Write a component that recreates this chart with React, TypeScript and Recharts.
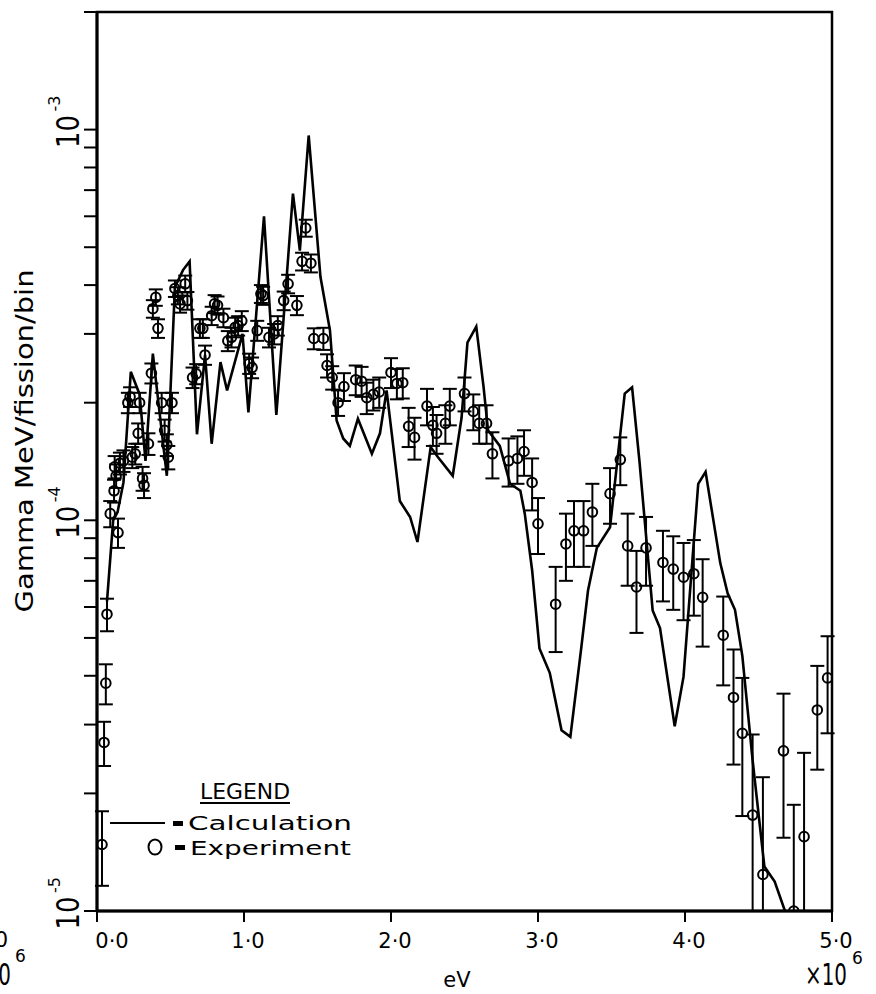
import React from 'react';
import { ComposedChart, Line, Scatter, ErrorBar, XAxis, YAxis, ReferenceArea } from 'recharts';

// calculated spectrum, energy in MeV
const calcE = [0.068, 0.11, 0.14, 0.18, 0.23, 0.29, 0.33, 0.38, 0.475, 0.53, 0.585, 0.63, 0.68, 0.735, 0.78, 0.84, 0.885, 0.99, 1.03, 1.136, 1.22, 1.333, 1.38, 1.44, 1.52, 1.585, 1.63, 1.675, 1.72, 1.775, 1.87, 1.925, 1.97, 2.06, 2.13, 2.18, 2.27, 2.32, 2.42, 2.48, 2.52, 2.58, 2.63, 2.66, 2.74, 2.81, 2.88, 2.91, 2.96, 3.01, 3.08, 3.16, 3.22, 3.29, 3.34, 3.40, 3.49, 3.59, 3.64, 3.69, 3.78, 3.83, 3.93, 3.99, 4.09, 4.14, 4.24, 4.29, 4.34, 4.39, 4.46, 4.54, 4.61, 4.68];
const calcY = [6.2e-5, 1.0e-4, 1.05e-4, 1.25e-4, 2.4e-4, 2.1e-4, 1.42e-4, 2.67e-4, 1.3e-4, 3.95e-4, 4.37e-4, 4.6e-4, 1.66e-4, 2.65e-4, 1.57e-4, 2.54e-4, 2.15e-4, 3.0e-4, 1.89e-4, 6.0e-4, 1.86e-4, 6.86e-4, 4.9e-4, 9.66e-4, 4.2e-4, 3.06e-4, 1.8e-4, 1.62e-4, 1.55e-4, 1.82e-4, 1.48e-4, 1.67e-4, 2.15e-4, 1.12e-4, 1.02e-4, 8.8e-5, 1.54e-4, 1.45e-4, 1.3e-4, 1.83e-4, 2.85e-4, 3.13e-4, 2.19e-4, 1.7e-4, 1.55e-4, 1.24e-4, 1.19e-4, 1.04e-4, 7.45e-5, 4.7e-5, 4.07e-5, 2.9e-5, 2.79e-5, 4.57e-5, 6.6e-5, 8.5e-5, 9.6e-5, 2.11e-4, 2.19e-4, 1.42e-4, 5.88e-5, 5.3e-5, 2.97e-5, 3.98e-5, 1.24e-4, 1.33e-4, 7.77e-5, 6.5e-5, 5.9e-5, 4.5e-5, 2.43e-5, 1.3e-5, 1.19e-5, 1.0e-5];

// experiment points
const expE = [0.034, 0.048, 0.060, 0.068, 0.09, 0.116, 0.12, 0.13, 0.143, 0.156,
  0.18, 0.21, 0.225, 0.24, 0.26, 0.28, 0.29, 0.31, 0.32, 0.35,
  0.37, 0.38, 0.40, 0.415, 0.44, 0.46, 0.475, 0.485, 0.51, 0.53,
  0.55, 0.565, 0.60, 0.615, 0.65, 0.675, 0.70, 0.72, 0.735, 0.78,
  0.80, 0.82, 0.86, 0.89, 0.915, 0.94, 0.96, 0.985, 1.035, 1.055,
  1.09, 1.115, 1.13, 1.17, 1.205, 1.23, 1.27, 1.30, 1.36, 1.395,
  1.42, 1.455, 1.475, 1.54, 1.565, 1.60, 1.64, 1.68, 1.76, 1.80,
  1.835, 1.88, 1.92, 2.0, 2.04, 2.08, 2.12, 2.16, 2.245, 2.285,
  2.31, 2.37, 2.40, 2.50, 2.56, 2.60, 2.65, 2.69, 2.80, 2.86,
  2.905, 2.96, 3.0, 3.12, 3.19, 3.245, 3.31, 3.37, 3.49, 3.56,
  3.61, 3.67, 3.735, 3.85, 3.92, 3.99, 4.06, 4.12, 4.26, 4.33,
  4.39, 4.46, 4.53, 4.67, 4.74, 4.81, 4.90, 4.97];
const expY = [1.48e-5, 2.7e-5, 3.83e-5, 5.75e-5, 1.04e-4, 1.19e-4, 1.37e-4, 1.30e-4, 9.3e-5, 1.40e-4,
  1.42e-4, 2.0e-4, 2.07e-4, 1.45e-4, 1.48e-4, 1.67e-4, 2.0e-4, 1.28e-4, 1.23e-4, 1.57e-4,
  2.38e-4, 3.48e-4, 3.72e-4, 3.1e-4, 2.0e-4, 1.7e-4, 1.56e-4, 1.45e-4, 2.0e-4, 3.92e-4,
  3.76e-4, 3.58e-4, 4.03e-4, 3.65e-4, 2.32e-4, 2.37e-4, 3.1e-4, 3.1e-4, 2.65e-4, 3.34e-4,
  3.58e-4, 3.55e-4, 3.3e-4, 2.88e-4, 2.94e-4, 3.12e-4, 3.15e-4, 3.24e-4, 2.52e-4, 2.46e-4,
  3.06e-4, 3.8e-4, 3.76e-4, 2.94e-4, 3.0e-4, 3.15e-4, 3.65e-4, 4.03e-4, 3.55e-4, 4.6e-4,
  5.6e-4, 4.55e-4, 2.92e-4, 2.92e-4, 2.49e-4, 2.32e-4, 2.0e-4, 2.2e-4, 2.29e-4, 2.27e-4,
  2.06e-4, 2.1e-4, 2.13e-4, 2.39e-4, 2.24e-4, 2.25e-4, 1.74e-4, 1.63e-4, 1.96e-4, 1.75e-4,
  1.67e-4, 1.77e-4, 1.96e-4, 2.11e-4, 1.9e-4, 1.77e-4, 1.77e-4, 1.48e-4, 1.42e-4, 1.44e-4,
  1.5e-4, 1.25e-4, 9.8e-5, 6.1e-5, 8.7e-5, 9.4e-5, 9.4e-5, 1.05e-4, 1.17e-4, 1.43e-4,
  8.6e-5, 6.75e-5, 8.5e-5, 7.8e-5, 7.5e-5, 7.15e-5, 7.3e-5, 6.35e-5, 5.08e-5, 3.52e-5,
  2.85e-5, 1.76e-5, 1.24e-5, 2.57e-5, 1.0e-5, 1.55e-5, 3.27e-5, 3.95e-5];
// error bars: symmetric value or [minus, plus]
const expErr: (number | number[])[] = [3.2e-6, 3.5e-6, 4.5e-6, 5.5e-6, 8e-6, 8e-6, 9e-6, 9e-6, 8e-6, 9e-6,
  9e-6, 1.2e-5, 1.2e-5, 9e-6, 9e-6, 1e-5, 1.2e-5, 9e-6, 9e-6, 1e-5,
  1.4e-5, 1.8e-5, 1.8e-5, 1.7e-5, 1.2e-5, 1.1e-5, 1e-5, 1e-5, 1.2e-5, 1.9e-5,
  1.9e-5, 1.8e-5, 2e-5, 1.9e-5, 1.4e-5, 1.4e-5, 1.7e-5, 1.7e-5, 1.5e-5, 1.8e-5,
  1.9e-5, 1.9e-5, 1.8e-5, 1.7e-5, 1.7e-5, 1.8e-5, 1.8e-5, 1.9e-5, 1.5e-5, 1.5e-5,
  1.8e-5, 2e-5, 2e-5, 1.7e-5, 1.8e-5, 1.8e-5, 2e-5, 2.2e-5, 2e-5, 2.4e-5,
  2.8e-5, 2.4e-5, 1.8e-5, 1.9e-5, 1.7e-5, 1.6e-5, 1.5e-5, 1.8e-5, 2e-5, 2e-5,
  1.9e-5, 1.9e-5, 1.9e-5, 2.1e-5, 2e-5, 2e-5, 2e-5, 2e-5, 2.1e-5, 2e-5,
  1.9e-5, 2e-5, 2.1e-5, 2.1e-5, 2e-5, 2e-5, 2e-5, 2e-5, 2e-5, 2e-5,
  2e-5, 1.9e-5, 1.6e-5, 1.5e-5, 1.7e-5, 1.8e-5, 1.8e-5, 1.9e-5, 1.9e-5, 2e-5,
  1.8e-5, 1.6e-5, 1.7e-5, 1.6e-5, 1.6e-5, 1.6e-5, 1.6e-5, 1.6e-5, 1.3e-5, 1.15e-5,
  1.1e-5, [7.6e-6, 1.07e-5], [2.4e-6, 9.6e-6], 1.03e-5, [0, 8.7e-6], [5.5e-6, 9.9e-6], 9.7e-6, 1.1e-5];

const xTicks = [0, 1, 2, 3, 4, 5];
const xTickLabels = ['0·0', '1·0', '2·0', '3·0', '4·0', '5·0'];
const yTicks = [1e-5, 2e-5, 3e-5, 4e-5, 5e-5, 6e-5, 7e-5, 8e-5, 9e-5,
  1e-4, 2e-4, 3e-4, 4e-4, 5e-4, 6e-4, 7e-4, 8e-4, 9e-4, 1e-3, 2e-3];

const calcData = calcE.map((x, i) => ({ x, y: calcY[i] }));
const expData = expE.map((x, i) => ({ x, y: expY[i], err: expErr[i] }));

const FONT = 'DejaVu Sans';

const XTick = (props: any) => {
  const { x, payload } = props;
  const i = xTicks.indexOf(payload.value);
  return (
    <text x={x + (i === 0 ? 15 : 4)} y={948} textAnchor="middle" fontSize={21} fontFamily={FONT} fill="#000">
      {xTickLabels[i]}
    </text>
  );
};

const YTick = (props: any) => {
  const { y, payload } = props;
  const lg = Math.log10(payload.value);
  const p = Math.round(lg);
  if (Math.abs(lg - p) > 1e-6 || p > -3) return <g />;
  return (
    <g transform={`translate(79, ${y}) rotate(-90)`} fontFamily={FONT} fill="#000">
      <text x={-2} y={0} textAnchor="middle" fontSize={32} textLength={33} lengthAdjust="spacingAndGlyphs">10</text>
      <text x={18} y={-19} fontSize={16}>{String(p)}</text>
    </g>
  );
};

const OpenCircle = (props: any) => {
  const { cx, cy } = props;
  if (cx == null || cy == null) return <g />;
  return <circle cx={cx} cy={cy} r={4.8} fill="none" stroke="#000" strokeWidth={2} />;
};

export default function App() {
  return (
    <div style={{ position: 'absolute', left: 0, top: 0, width: 876, height: 994, overflow: 'hidden', background: '#fff' }}>
      <ComposedChart width={876} height={994} margin={{ top: 12, right: 44, bottom: 43, left: 37 }}>
        <XAxis
          dataKey="x"
          type="number"
          domain={[0, 5]}
          ticks={xTicks}
          interval={0}
          allowDataOverflow
          height={40}
          tickSize={11}
          tick={<XTick />}
          tickLine={{ stroke: '#000', strokeWidth: 2 }}
          axisLine={{ stroke: '#000', strokeWidth: 3 }}
        />
        <YAxis
          type="number"
          scale="log"
          domain={[1e-5, 2e-3]}
          ticks={yTicks}
          interval={0}
          allowDataOverflow
          width={60}
          tickSize={13}
          tick={<YTick />}
          tickLine={{ stroke: '#000', strokeWidth: 2 }}
          axisLine={{ stroke: '#000', strokeWidth: 3 }}
        />
        <ReferenceArea x1={0} x2={5} y1={1e-5} y2={2e-3} fill="none" fillOpacity={0} stroke="#000" strokeWidth={2.5} />
        <Scatter data={expData} dataKey="y" shape={<OpenCircle />} isAnimationActive={false}>
          <ErrorBar dataKey="err" direction="y" width={7} stroke="#000" strokeWidth={2} />
        </Scatter>
        <Line data={calcData} dataKey="y" type="linear" stroke="#000" strokeWidth={2.6} dot={false} isAnimationActive={false} />
      </ComposedChart>

      <svg width={876} height={994} style={{ position: 'absolute', left: 0, top: 0, pointerEvents: 'none' }} fontFamily={FONT} fill="#000">
        <text transform="translate(33, 441) rotate(-90)" textAnchor="middle" fontSize={24} textLength={343} lengthAdjust="spacingAndGlyphs">
          Gamma MeV/fission/bin
        </text>
        <text x={457} y={987} textAnchor="middle" fontSize={21}>eV</text>
        <text x={805} y={985} fontSize={30} textLength={42} lengthAdjust="spacingAndGlyphs">×10</text>
        <text x={852} y={964} fontSize={17}>6</text>

        {/* tail of the neighbouring figure's labels */}
        <text x={8} y={947} textAnchor="end" fontSize={21}>5·0</text>
        <text x={11} y={985} textAnchor="end" fontSize={30} textLength={42} lengthAdjust="spacingAndGlyphs">×10</text>
        <text x={15} y={962} fontSize={17}>6</text>

        {/* legend */}
        <text x={200} y={799} fontSize={21} textLength={90} lengthAdjust="spacingAndGlyphs">LEGEND</text>
        <line x1={200} y1={803} x2={290} y2={803} stroke="#000" strokeWidth={2} />
        <line x1={110} y1={823} x2={165} y2={823} stroke="#000" strokeWidth={2.2} />
        <rect x={173} y={821} width={10} height={5} />
        <text x={188} y={830} fontSize={20} textLength={164} lengthAdjust="spacingAndGlyphs">Calculation</text>
        <ellipse cx={155} cy={847} rx={6.5} ry={7.5} fill="none" stroke="#000" strokeWidth={2} />
        <rect x={175} y={845} width={10} height={5} />
        <text x={190} y={855} fontSize={20} textLength={161} lengthAdjust="spacingAndGlyphs">Experiment</text>
      </svg>
    </div>
  );
}
